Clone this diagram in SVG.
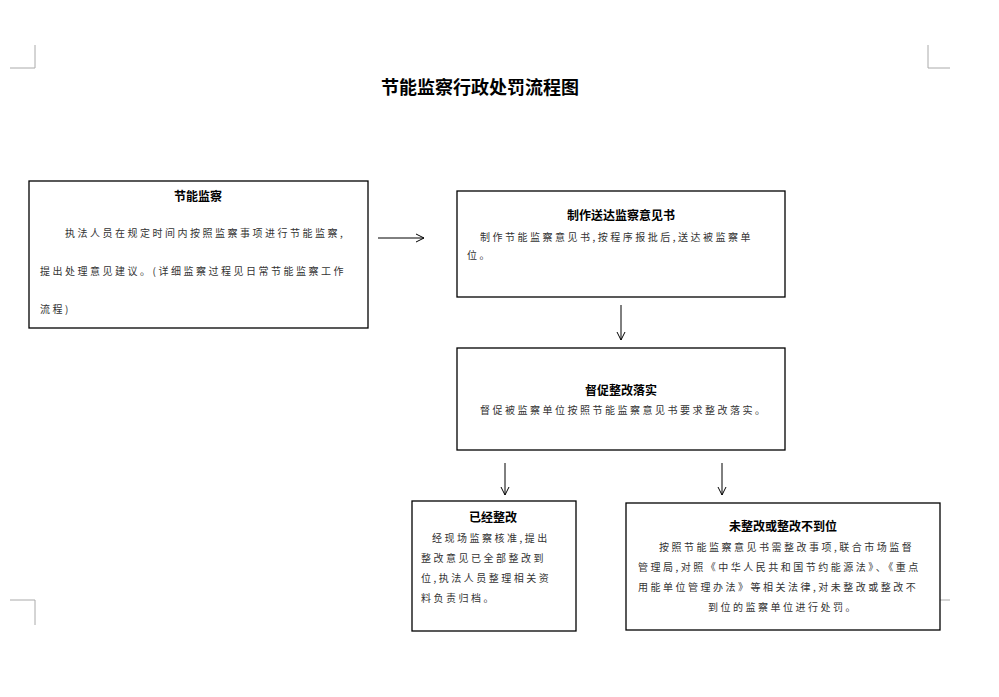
<svg xmlns="http://www.w3.org/2000/svg" width="999" height="697" viewBox="0 0 999 697">
<defs>
<marker id="ah" viewBox="0 0 10 10" refX="9" refY="5" markerWidth="10" markerHeight="10" orient="auto" markerUnits="userSpaceOnUse"><path d="M1,1 L9,5 L1,9" fill="none" stroke="#000" stroke-width="1"/></marker>
</defs>
<style>
.box{fill:#fff;stroke:#000;stroke-width:1.3}
.t{font-family:"Noto Sans CJK SC",sans-serif;font-size:12px;font-weight:bold;fill:#000;text-anchor:middle}
.b{font-family:"Noto Sans CJK SC",sans-serif;font-size:10px;letter-spacing:2.5px;fill:#333}
.c{stroke:#000;stroke-width:1;fill:none;marker-end:url(#ah)}
.m{stroke:#aaa;stroke-width:1;fill:none}
</style>
<rect width="999" height="697" fill="#fff"/>
<path class="m" d="M35,45 V68 H10 M928,45 V68 H950 M10,600 H35 V625 M928,600 H950"/>
<text x="480" y="94" font-family="Noto Sans CJK SC,sans-serif" font-size="18" font-weight="bold" text-anchor="middle">节能监察行政处罚流程图</text>
<g id="n1"><rect class="box" x="29" y="181" width="339" height="147"/>
<text class="t" x="198" y="201">节能监察</text>
<text class="b" x="65" y="237">执法人员在规定时间内按照监察事项进行节能监察,</text>
<text class="b" x="40" y="275">提出处理意见建议。(详细监察过程见日常节能监察工作</text>
<text class="b" x="40" y="313">流程)</text></g>
<g id="n2"><rect class="box" x="457" y="191" width="328" height="106"/>
<text class="t" x="621" y="220">制作送达监察意见书</text>
<text class="b" x="480" y="241">制作节能监察意见书,按程序报批后,送达被监察单</text>
<text class="b" x="467" y="259">位。</text></g>
<g id="n3"><rect class="box" x="457" y="348" width="328" height="102"/>
<text class="t" x="621" y="395">督促整改落实</text>
<text class="b" x="480" y="414">督促被监察单位按照节能监察意见书要求整改落实。</text></g>
<g id="n4"><rect class="box" x="412" y="501" width="164" height="130"/>
<text class="t" x="493" y="522">已经整改</text>
<text class="b" x="432" y="542">经现场监察核准,提出</text>
<text class="b" x="421" y="562">整改意见已全部整改到</text>
<text class="b" x="421" y="582">位,执法人员整理相关资</text>
<text class="b" x="421" y="602">料负责归档。</text></g>
<g id="n5"><rect class="box" x="626" y="503" width="314" height="127"/>
<text class="t" x="783" y="531">未整改或整改不到位</text>
<text class="b" x="659" y="551">按照节能监察意见书需整改事项,联合市场监督</text>
<text class="b" x="638" y="571">管理局,对照《中华人民共和国节约能源法》、《重点</text>
<text class="b" x="638" y="591">用能单位管理办法》等相关法律,对未整改或整改不</text>
<text class="b" x="783" y="611" text-anchor="middle">到位的监察单位进行处罚。</text></g>
<g id="connectors">
<line class="c" x1="378" y1="238" x2="424" y2="238"/>
<line class="c" x1="621" y1="305" x2="621" y2="340"/>
<line class="c" x1="505" y1="463" x2="505" y2="495"/>
<line class="c" x1="722" y1="463" x2="722" y2="495"/>
</g>
</svg>
